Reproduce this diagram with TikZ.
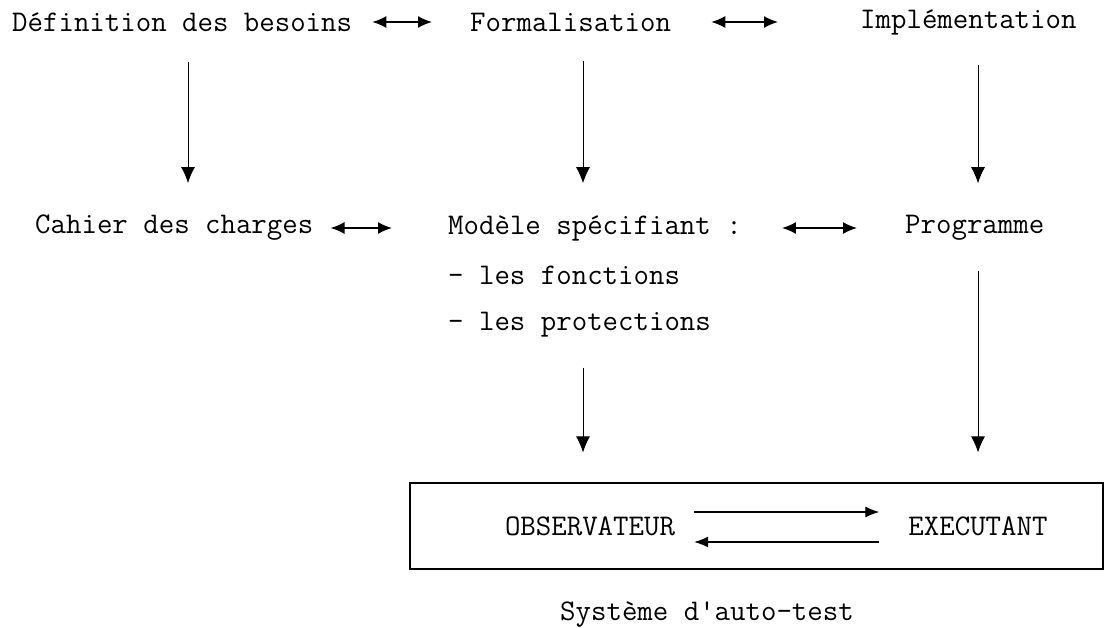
\documentclass[tikz,border=0pt]{standalone}
\usepackage{fontspec}
\usetikzlibrary{arrows.meta}
\tikzset{
  lbl/.style={font=\ttfamily\fontsize{30}{34}\selectfont, anchor=west, inner sep=2pt},
  mid/.style={font=\ttfamily\fontsize{30}{34}\selectfont, inner sep=2pt},
  varr/.style={-{Latex[length=16pt,width=14pt]}, line width=0.8pt, shorten <=28pt, shorten >=30pt},
  harr/.style={{Latex[length=14pt,width=12pt]}-{Latex[length=14pt,width=12pt]}, line width=1.6pt},
  barr/.style={-{Latex[length=14pt,width=11pt]}, line width=1.2pt},
}
\begin{document}
\begin{tikzpicture}[x=1pt,y=-1pt]
\useasboundingbox (0,0) rectangle (1106,627);
% colonnes des fleches verticales
\coordinate (c1) at (188,0);
\coordinate (c2) at (583,0);
\coordinate (c3) at (978,0);
% premiere ligne
\node[lbl] (def)  at (10,22)  {Définition des besoins};
\node[lbl] (form) at (468,22) {Formalisation};
\node[lbl] (impl) at (858,22) {Implémentation};
% deuxieme ligne
\node[lbl] (cahier) at (33,228)  {Cahier des charges};
\node[lbl] (modele) at (446,228) {Modèle spécifiant :};
\node[lbl] (prog)   at (903,228) {Programme};
\node[lbl] (fonc)   at (446,275) {- les fonctions};
\node[lbl] (prot)   at (446,325) {- les protections};
% systeme d'auto-test
\node[draw, line width=1.2pt, minimum width=693pt, minimum height=86pt] (box) at (756.5,526) {};
\node[mid] (obs)  at (590,526) {OBSERVATEUR};
\node[mid] (exec) at (978,526) {EXECUTANT};
\node[mid] (sys)  at (707,615) {Système d'auto-test};
% fleches
\draw[harr, shorten <=18pt, shorten >=36pt] (def.east) -- (form.west);
\draw[harr, shorten <=38pt, shorten >=80pt] (form.east) -- (impl.west);
\draw[harr, shorten <=15pt, shorten >=54pt] (cahier.east) -- (modele.west);
\draw[harr, shorten <=38pt, shorten >=46pt] (modele.east) -- (prog.west);
\draw[varr] (c1 |- def.south) -- (c1 |- cahier.north);
\draw[varr] (c2 |- form.south) -- (c2 |- modele.north);
\draw[varr] (c3 |- impl.south) -- (c3 |- prog.north);
\draw[varr] (c2 |- prot.south) -- (c2 |- box.north);
\draw[varr] (c3 |- prog.south) -- (c3 |- box.north);
\draw[barr, shorten <=17pt, shorten >=27pt] ([yshift=14pt]obs.east) -- ([yshift=14pt]obs.east -| exec.west);
\draw[barr, shorten <=27pt, shorten >=17pt] ([yshift=-16pt]obs.east -| exec.west) -- ([yshift=-16pt]obs.east);
\end{tikzpicture}
\end{document}
